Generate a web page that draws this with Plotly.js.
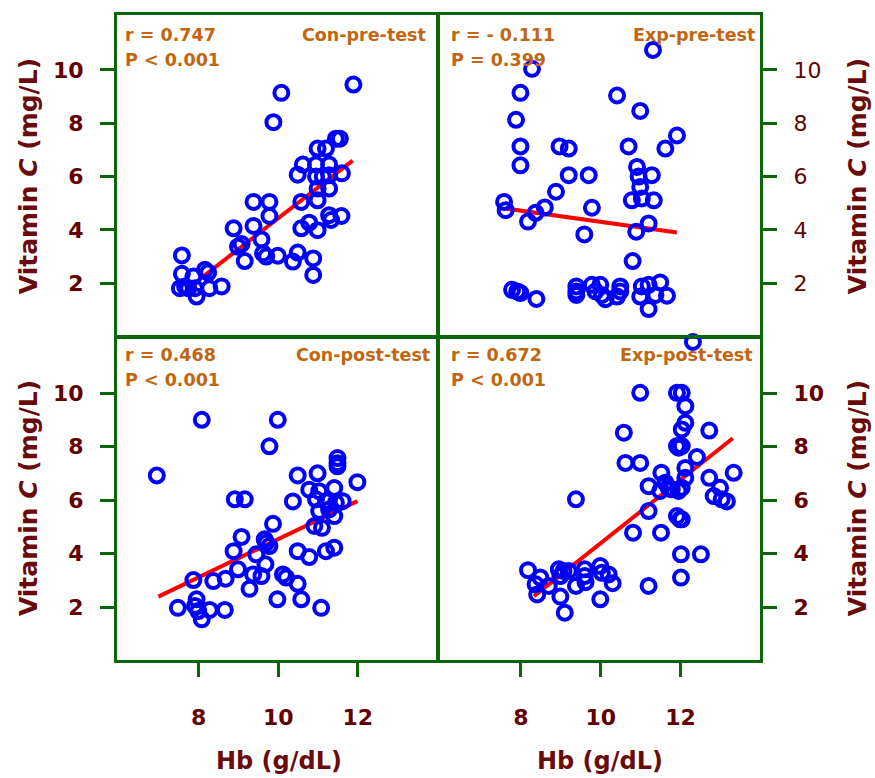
<!DOCTYPE html>
<html>
<head>
<meta charset="utf-8">
<script src="https://cdn.plot.ly/plotly-3.0.1.min.js"></script>
<style>html,body{margin:0;padding:0;background:#fff;}#chart{width:875px;height:778px;}</style>
</head>
<body>
<div id="chart"></div>
<script>
// Con-pre-test
const conPreHb = [10.08,11.89,9.88,11.55,11.45,10.99,11.20,10.62,10.95,11.28,11.60,10.49,10.95,11.12,11.28,10.99,11.28,10.99,10.58,9.38,9.78,9.78,11.28,11.59,11.33,10.58,10.78,10.99,8.88,9.38,9.58,8.99,9.08,9.16,9.62,9.70,9.99,10.37,10.49,10.88,10.88,7.58,7.58,7.87,8.16,8.24,7.53,7.66,7.74,7.91,7.95,8.27,8.58];
const conPreVC = [9.14,9.45,8.04,7.42,7.42,7.05,7.05,6.45,6.45,6.45,6.12,6.07,6.0,6.0,6.05,5.55,5.55,5.11,5.05,5.05,5.05,4.52,4.55,4.52,4.37,4.06,4.27,3.99,4.06,4.15,3.64,3.37,3.47,2.83,3.12,3.0,3.03,2.81,3.15,2.93,2.31,3.04,2.35,2.25,2.5,2.4,1.81,1.88,1.81,1.81,1.5,1.81,1.88];
// Exp-pre-test
const expPreHb = [11.31,8.28,7.99,10.41,10.99,7.88,7.99,8.97,9.20,10.70,11.62,11.91,7.99,10.91,9.20,9.70,10.95,11.28,10.99,10.78,11.03,11.33,7.58,7.62,8.88,8.60,8.37,8.18,9.78,9.59,10.89,11.20,10.80,7.78,7.91,7.99,8.39,9.39,9.39,9.39,9.78,9.99,9.87,10.03,10.12,10.49,10.49,10.41,11.03,11.20,11.49,10.99,11.37,11.66,11.20];
const expPreVC = [10.75,10.04,9.14,9.04,8.46,8.13,7.13,7.13,7.05,7.13,7.05,7.54,6.42,6.36,6.05,6.05,6.0,6.05,5.61,5.11,5.18,5.11,5.05,4.74,5.43,4.84,4.64,4.31,4.83,3.83,3.93,4.24,2.83,1.75,1.69,1.63,1.41,1.88,1.69,1.56,1.94,1.94,1.69,1.56,1.40,1.88,1.69,1.50,1.88,1.94,2.03,1.50,1.56,1.53,1.03];
// Con-post-test
const conPostHb = [8.08,9.99,9.78,6.95,11.49,11.49,11.49,10.49,10.99,11.99,10.78,11.03,11.41,10.37,8.91,9.16,10.95,11.20,11.45,11.62,11.03,11.28,11.41,10.91,11.10,9.87,9.08,9.66,9.78,9.70,8.88,9.45,10.49,10.78,11.20,11.41,9.68,8.99,9.37,9.58,10.12,10.20,10.49,9.28,7.87,8.37,8.68,9.98,10.58,11.08,7.48,7.95,7.91,7.99,8.08,8.28,8.66];
const conPostVC = [9.0,9.0,8.01,6.92,7.57,7.38,7.26,6.92,7.0,6.67,6.39,6.33,6.45,5.95,6.03,6.03,6.03,5.96,5.90,5.96,5.59,5.65,5.40,5.03,4.96,5.11,4.62,4.53,4.28,4.40,4.09,3.97,4.09,3.87,4.09,4.22,3.60,3.41,3.22,3.16,3.22,3.10,2.87,2.68,3.01,2.97,3.06,2.29,2.29,1.97,1.97,2.29,2.04,1.85,1.54,1.89,1.89];
// Exp-post-test
const expPostHb = [12.31,10.99,11.91,12.03,12.12,12.12,12.03,12.72,10.58,11.91,12.03,11.95,12.41,10.62,10.99,12.12,13.33,11.52,12.12,12.72,11.20,11.62,11.70,11.78,11.95,12.03,11.49,12.99,12.83,13.03,13.16,9.38,11.20,11.91,11.99,12.03,10.81,11.51,12.01,12.51,12.01,11.20,8.18,8.49,8.37,8.41,8.70,8.95,9.07,9.20,8.99,9.38,9.60,9.60,9.62,9.99,10.03,10.20,10.30,8.99,9.99,9.10];
const expPostVC = [11.91,10.01,10.01,10.01,9.51,8.89,8.64,8.60,8.52,8.02,8.02,7.96,7.61,7.39,7.39,7.20,7.02,7.02,6.83,6.83,6.52,6.65,6.46,6.40,6.34,6.46,6.34,6.46,6.15,6.03,5.95,6.03,5.59,5.40,5.28,5.28,4.78,4.78,3.97,3.97,3.10,2.79,3.38,3.10,2.85,2.47,2.79,3.41,3.35,3.35,3.16,2.79,3.41,3.16,2.93,3.53,3.28,3.22,2.89,2.39,2.29,1.79];
// fitted lines (end points)
const conPreFitX = [7.95, 11.87], conPreFitY = [2.06, 6.60];
const expPreFitX = [7.62, 11.91], expPreFitY = [4.80, 3.90];
const conPostFitX = [6.99, 11.99], conPostFitY = [2.39, 5.96];
const expPostFitX = [8.33, 13.31], expPostFitY = [2.41, 8.31];
// labels
const panelNames = ["Con-pre-test", "Exp-pre-test", "Con-post-test", "Exp-post-test"];
const rLabels = ["r = 0.747", "r = - 0.111", "r = 0.468", "r = 0.672"];
const pLabels = ["P < 0.001", "P = 0.399", "P < 0.001", "P < 0.001"];
const yTickVals = [2, 4, 6, 8, 10];
const xTickVals = [8, 10, 12];
const xTitle = "Hb (g/dL)";
const yTitle = "Vitamin <i>C</i> (mg/L)";

const FONT = "DejaVu Sans, Verdana, sans-serif";
const GREEN = "#0b650b";
const TICKCOL = "#650000";
const TXTCOL = "#c2650f";

const sets = [
  [conPreHb, conPreVC, conPreFitX, conPreFitY, "x", "y"],
  [expPreHb, expPreVC, expPreFitX, expPreFitY, "x2", "y2"],
  [conPostHb, conPostVC, conPostFitX, conPostFitY, "x3", "y3"],
  [expPostHb, expPostVC, expPostFitX, expPostFitY, "x4", "y4"]
];
const traces = [];
sets.forEach(s => {
  traces.push({x: s[2], y: s[3], xaxis: s[4], yaxis: s[5], type: "scatter", mode: "lines",
    line: {color: "#ff0000", width: 4}, hoverinfo: "skip", showlegend: false});
  traces.push({x: s[0], y: s[1], xaxis: s[4], yaxis: s[5], type: "scatter", mode: "markers",
    cliponaxis: false,
    marker: {symbol: "circle-open", size: 14, color: "#0000ff", line: {width: 4, color: "#0000ff"}},
    showlegend: false});
});

const xr = [5.95, 13.99];
const yr = [0.02, 12.06];
// small gap between panels so the shared borders look like one line
const gx = 1.0 / 643, gy = 1.0 / 645;
const xm = 0.4992, ym = 0.5008;
function xax(dom, show) {
  return {domain: dom, range: xr, showgrid: false, zeroline: false, showline: true, mirror: true,
    linecolor: GREEN, linewidth: 3, ticks: show ? "outside" : "", ticklen: 14, tickwidth: 3,
    tickcolor: GREEN, tickvals: xTickVals, showticklabels: show, ticklabelstandoff: 22,
    tickfont: {family: FONT, size: 22, color: TICKCOL, weight: "bold"}, fixedrange: true};
}
function yax(dom, side, anchor, bold) {
  return {domain: dom, range: yr, anchor: anchor, side: side, showgrid: false, zeroline: false,
    showline: true, mirror: true, linecolor: GREEN, linewidth: 3, ticks: "outside", ticklen: 14,
    tickwidth: 3, tickcolor: GREEN, tickvals: yTickVals, ticklabelstandoff: 12,
    tickfont: {family: FONT, size: 22, color: TICKCOL, weight: bold ? "bold" : "normal"}, fixedrange: true};
}

const ann = [];
const panelPos = [
  {l: 0.0093, r: 0.4837, y1: 0.969, y2: 0.930},
  {l: 0.5160, r: 0.9950, y1: 0.969, y2: 0.930},
  {l: 0.0093, r: 0.4905, y1: 0.473, y2: 0.434},
  {l: 0.5160, r: 0.9920, y1: 0.473, y2: 0.434}
];
panelPos.forEach((p, i) => {
  const f = {family: FONT, size: 17.5, color: TXTCOL, weight: "bold"};
  ann.push({xref: "paper", yref: "paper", x: p.l, y: p.y1, xanchor: "left", yanchor: "middle", text: rLabels[i], showarrow: false, font: f});
  ann.push({xref: "paper", yref: "paper", x: p.l, y: p.y2, xanchor: "left", yanchor: "middle", text: pLabels[i], showarrow: false, font: f});
  ann.push({xref: "paper", yref: "paper", x: p.r, y: p.y1, xanchor: "right", yanchor: "middle", text: panelNames[i], showarrow: false, font: f});
});
const tf = {family: FONT, size: 25, color: "#6a0a0a", weight: "bold"};
[[-0.1384, 0.750], [-0.1384, 0.251], [1.1509, 0.750], [1.1509, 0.251]].forEach(p => {
  ann.push({xref: "paper", yref: "paper", x: p[0], y: p[1], xanchor: "center", yanchor: "middle", textangle: -90, text: yTitle, showarrow: false, font: tf});
});
const xf = {family: FONT, size: 24, color: "#6a0a0a", weight: "bold"};
[0.252, 0.751].forEach(x => {
  ann.push({xref: "paper", yref: "paper", x: x, y: -0.157, xanchor: "center", yanchor: "middle", text: xTitle, showarrow: false, font: xf});
});

const layout = {
  width: 875, height: 778,
  margin: {l: 117, r: 115, t: 15, b: 118, pad: 0},
  paper_bgcolor: "#ffffff", plot_bgcolor: "#ffffff",
  showlegend: false,
  xaxis: Object.assign(xax([0, xm - gx], false), {anchor: "y"}),
  yaxis: yax([ym + gy, 1], "left", "x", true),
  xaxis2: Object.assign(xax([xm + gx, 1], false), {anchor: "y2"}),
  yaxis2: yax([ym + gy, 1], "right", "x2", false),
  xaxis3: Object.assign(xax([0, xm - gx], true), {anchor: "y3"}),
  yaxis3: yax([0, ym - gy], "left", "x3", true),
  xaxis4: Object.assign(xax([xm + gx, 1], true), {anchor: "y4"}),
  yaxis4: yax([0, ym - gy], "right", "x4", true),
  annotations: ann
};
Plotly.newPlot("chart", traces, layout, {displayModeBar: false, staticPlot: true});
</script>
</body>
</html>
